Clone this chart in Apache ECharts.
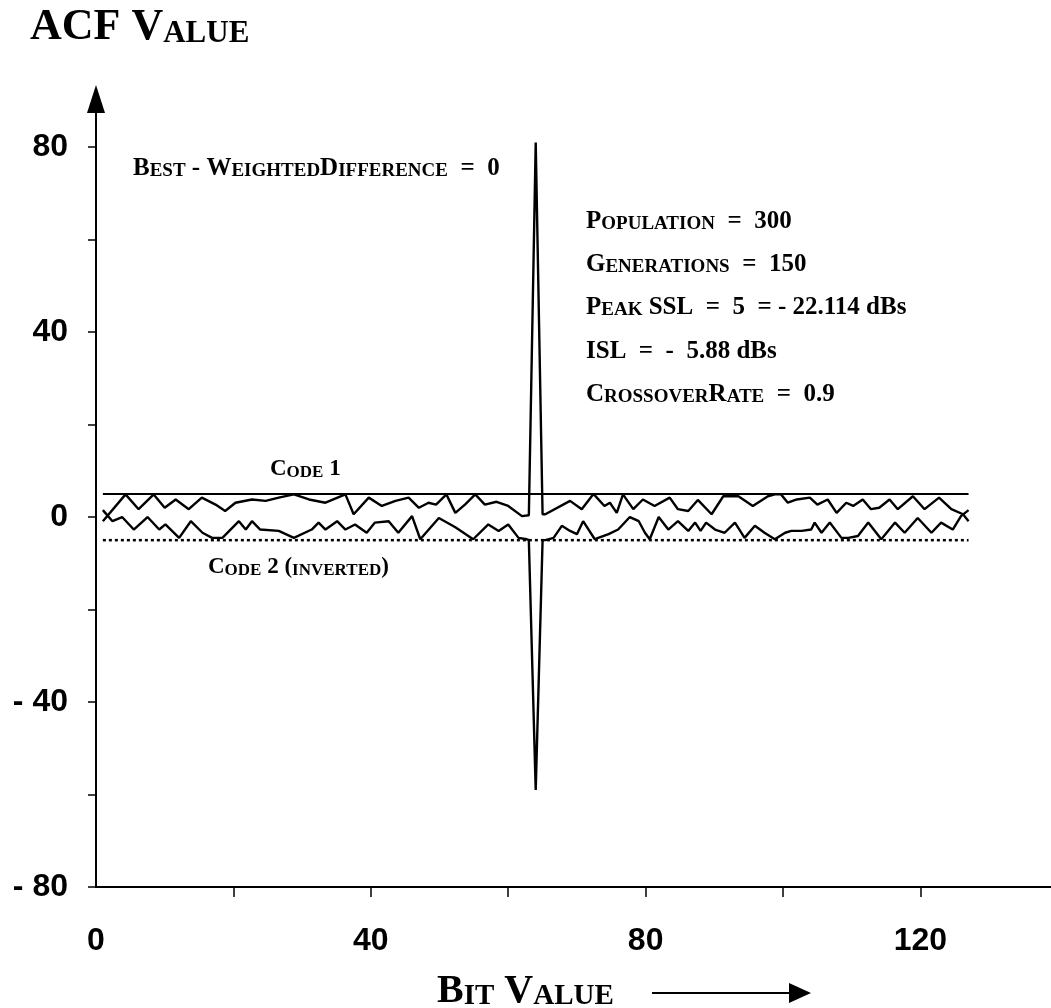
<!DOCTYPE html>
<html>
<head>
<meta charset="utf-8">
<script src="https://cdn.jsdelivr.net/npm/echarts@6/dist/echarts.min.js"></script>
<style>
  html, body { margin: 0; padding: 0; background: #fff; }
  #chart { width: 1051px; height: 1008px; }
</style>
</head>
<body>
<div id="chart"></div>
<script>
// Axis ticks and labels
const bitTicks = [20, 40, 60, 80, 100, 120];
const bitLabels = [0, 40, 80, 120];
const acfTicks = [-80, -60, -40, -20, 0, 20, 40, 60, 80];
const acfLabels = [-80, -40, 0, 40, 80];

// Peak sidelobe reference levels
const sidelobeUpper = [[1, 5], [127, 5]];
const sidelobeLower = [[1, -5], [127, -5]];

// Code 1 autocorrelation: [bit, ACF]
const code1 = [
  [1, -0.9], [4.3, 4.9], [6.2, 1.7], [8.4, 4.9], [10, 2.0], [11.6, 3.8], [13.5, 1.7],
  [15.4, 4.2], [17.4, 2.7], [18.8, 1.3], [20.3, 3.1], [22.7, 3.8], [24.7, 3.5],
  [26.6, 4.2], [28.8, 4.9], [31, 3.8], [33.4, 3.1], [36.3, 4.9], [37.5, 0.6],
  [39.7, 4.2], [41.6, 2.4], [43.6, 3.5], [45.5, 4.2], [47, 2.0], [48.4, 3.1],
  [49.5, 2.7], [51, 4.9], [52.3, 0.9], [53.7, 2.7], [55.2, 4.9], [56.6, 2.7],
  [58.3, 3.3], [60, 2.4], [62, 0.2], [63, 0.4], [64, 81], [65, 0.6], [65.4, 0.6],
  [69, 3.5], [70.7, 1.7], [72.4, 5.0], [74, 2.4], [74.8, 3.1], [75.8, 0.9],
  [76.7, 4.9], [78.2, 1.7], [79.6, 3.8], [81.3, 2.4], [83.5, 4.2], [84.7, 1.7],
  [86.2, 1.3], [87.6, 3.7], [89.6, 0.6], [91.3, 4.5], [93.5, 4.5], [95.6, 2.4],
  [97.8, 4.5], [98.8, 4.9], [99.7, 4.9], [100.7, 3.1], [102, 3.8], [103.9, 4.2],
  [105, 2.7], [106.5, 3.8], [107.8, 0.9], [109.2, 3.1], [110.2, 2.4], [111.6, 3.8],
  [112.8, 1.7], [114, 2.0], [115.5, 3.8], [116.7, 1.7], [118.9, 4.5], [120.6, 1.7],
  [122.7, 4.2], [124.5, 1.7], [126.2, 0.6], [127, -0.9]
];

// Code 2 autocorrelation, inverted: [bit, ACF]
const code2 = [
  [1, 1.5], [2.4, -0.9], [3.8, 0], [5.5, -2.7], [7.5, 0], [9.2, -2.7], [10.1, -1.6],
  [12.1, -4.5], [13.8, -0.9], [15.5, -3.4], [16.9, -4.5], [18.4, -4.5], [20.8, -0.9],
  [21.8, -2.7], [22.7, -0.9], [23.9, -2.7], [26.6, -3.0], [28.8, -4.5], [31.4, -2.7],
  [32.4, -1.2], [33.4, -2.7], [35.1, -0.9], [36.3, -2.7], [37.7, -1.6], [39.4, -3.4],
  [40.6, -1.2], [42.6, -0.9], [44, -3.4], [46, 0.2], [47.2, -4.8], [49.9, -0.2],
  [52.3, -2.2], [54.9, -4.8], [57.1, -1.6], [58.6, -3.0], [60, -1.6], [61.5, -4.5],
  [62.7, -4.8], [63, -5], [64, -59], [65, -5], [65.4, -5], [66.6, -4.5], [67.8, -1.9],
  [69, -3.0], [70, -3.7], [70.9, -0.9], [72.6, -4.8], [74.6, -3.7], [76, -2.7],
  [77.7, 0], [79, -0.9], [79.9, -3.4], [80.6, -4.8], [81.9, 0], [83.3, -2.7],
  [84.7, -0.9], [86.2, -3.0], [87.2, -1.2], [88, -3.0], [88.8, -1.2], [90.1, -2.7],
  [91.5, -3.4], [93, -1.2], [94.4, -4.5], [95.9, -1.9], [97.3, -3.4], [98.8, -4.8],
  [100.3, -3.4], [101.2, -3.0], [102.7, -3.0], [104.1, -2.7], [104.6, -1.2],
  [105.6, -3.4], [106.8, -1.2], [108.5, -4.5], [109.5, -4.5], [110.9, -4.1],
  [112.4, -1.2], [114.3, -4.8], [116.3, -1.2], [117.7, -3.4], [119.6, -0.2],
  [121.6, -3.4], [123, -1.2], [124.7, -2.7], [125.9, 0.2], [127, 1.5]
];

const serif = '"Liberation Serif", "Times New Roman", serif';
const sans = '"Liberation Sans", Arial, Helvetica, sans-serif';

// Rich styles for small-caps text: b = full capitals, s = reduced capitals
function capsStyles(big, small) {
  const base = { fontWeight: 'bold', fontFamily: serif, fill: '#000', verticalAlign: 'bottom' };
  return {
    b: Object.assign({}, base, { fontSize: big, lineHeight: big }),
    s: Object.assign({}, base, { fontSize: small, lineHeight: small })
  };
}

// Text block placed by its left edge and baseline
function capsText(x, baseline, text, big, small) {
  return {
    type: 'text',
    x: x,
    y: baseline - 0.8375 * big,
    silent: true,
    style: { text: text, rich: capsStyles(big, small), align: 'left', verticalAlign: 'top' }
  };
}

const chart = echarts.init(document.getElementById('chart'), null, { renderer: 'canvas' });

const lineBase = { type: 'line', showSymbol: false, silent: true, animation: false, z: 3 };

chart.setOption({
  backgroundColor: '#fff',
  animation: false,
  grid: { left: 96, right: 0, top: 99, bottom: 121 },
  xAxis: {
    type: 'value',
    min: 0,
    max: 139,
    splitLine: { show: false },
    axisLine: { onZero: false, lineStyle: { color: '#000', width: 2 } },
    axisTick: { customValues: bitTicks, length: 10, inside: false, lineStyle: { color: '#000', width: 1.5 } },
    axisLabel: {
      customValues: bitLabels,
      margin: 38,
      color: '#000',
      fontFamily: sans,
      fontWeight: 'bold',
      fontSize: 32
    }
  },
  yAxis: {
    type: 'value',
    min: -80,
    max: 90.4,
    splitLine: { show: false },
    axisLine: {
      onZero: false,
      symbol: ['none', 'triangle'],
      symbolSize: [18, 28],
      lineStyle: { color: '#000', width: 2 }
    },
    axisTick: { customValues: acfTicks, length: 8, inside: false, lineStyle: { color: '#000', width: 1.5 } },
    axisLabel: {
      customValues: acfLabels,
      margin: 28,
      color: '#000',
      fontFamily: sans,
      fontWeight: 'bold',
      fontSize: 32,
      formatter: function (v) { return v < 0 ? '- ' + Math.abs(v) : String(v); }
    }
  },
  series: [
    Object.assign({}, lineBase, { name: 'Peak sidelobe +', data: sidelobeUpper, lineStyle: { color: '#000', width: 2 } }),
    Object.assign({}, lineBase, { name: 'Peak sidelobe -', data: sidelobeLower, lineStyle: { color: '#000', width: 2.5, type: [3, 3] } }),
    Object.assign({}, lineBase, { name: 'Code 1', data: code1, lineStyle: { color: '#000', width: 2.4 } }),
    Object.assign({}, lineBase, { name: 'Code 2 (inverted)', data: code2, lineStyle: { color: '#000', width: 2.4 } })
  ],
  graphic: [
    capsText(30, 42, '{b|ACF V}{s|ALUE}', 44, 31),
    capsText(133, 177, '{b|B}{s|EST}{b| - W}{s|EIGHTED}{b|D}{s|IFFERENCE}{b|  =  0}', 25, 19),
    capsText(586, 230, '{b|P}{s|OPULATION}{b|  =  300}', 25, 19),
    capsText(586, 273, '{b|G}{s|ENERATIONS}{b|  =  150}', 25, 19),
    capsText(586, 316, '{b|P}{s|EAK}{b| SSL  =  5  = - 22.114 dBs}', 25, 19),
    capsText(586, 360, '{b|ISL  =  -  5.88 dBs}', 25, 19),
    capsText(586, 403, '{b|C}{s|ROSSOVER}{b|R}{s|ATE}{b|  =  0.9}', 25, 19),
    capsText(270, 477, '{b|C}{s|ODE}{b| 1}', 23, 17),
    capsText(208, 575, '{b|C}{s|ODE}{b| 2 (}{s|INVERTED}{b|)}', 23, 17),
    capsText(437, 1005, '{b|B}{s|IT}{b| V}{s|ALUE}', 40, 29),
    {
      type: 'line', silent: true,
      shape: { x1: 652, y1: 993, x2: 795, y2: 993 },
      style: { stroke: '#000', lineWidth: 2 }
    },
    {
      type: 'polygon', silent: true,
      shape: { points: [[789, 983], [811, 993], [789, 1003]] },
      style: { fill: '#000' }
    }
  ]
});
</script>
</body>
</html>
